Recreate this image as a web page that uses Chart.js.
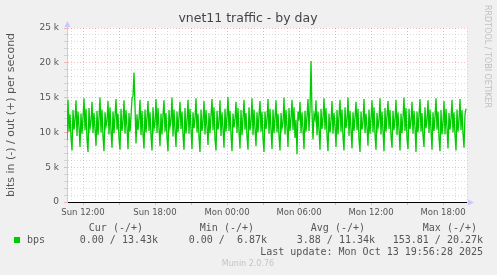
<!DOCTYPE html>
<html>
<head>
<meta charset="utf-8">
<script src="https://cdn.jsdelivr.net/npm/chart.js@4.4.1/dist/chart.umd.min.js"></script>
<style>
html,body{margin:0;padding:0;background:#f0f0f0;}
#wrap{width:497px;height:275px;}
</style>
</head>
<body>
<div id="wrap"><canvas id="c" width="497" height="275"></canvas></div>
<script>
// out traffic in k bps, one value per 5 min, starting Sun 10:40
const outK = [
8.9,14.7,10.1,12.6,9.3,7.4,13.2,10.4,
11.8,14.6,9.5,13.0,10.8,7.9,12.7,9.8,
12.2,14.9,10.3,13.4,9.0,7.2,13.5,10.6,
11.5,14.4,9.9,12.8,10.5,8.1,13.1,9.6,
12.0,15.0,10.0,13.3,9.4,7.3,12.9,10.9,
11.7,14.5,9.7,13.6,10.2,7.8,13.0,9.9,
12.4,14.8,10.4,12.7,9.1,7.5,13.4,10.2,
11.6,14.6,9.8,13.2,10.7,7.6,12.8,10.1,
12.3,14.9,15.2,18.6,13.8,8.4,12.6,10.3,
11.9,14.7,9.6,13.1,9.8,7.7,13.3,10.0,
12.1,14.5,10.2,12.9,9.5,7.4,13.6,10.5,
11.4,14.8,9.9,13.5,10.6,8.0,12.7,9.7,
12.5,14.6,10.1,12.8,9.2,7.3,13.2,10.8,
11.8,15.0,9.4,13.3,10.3,7.9,13.0,10.0,
12.2,14.4,10.5,13.0,9.6,7.5,13.5,9.8,
11.6,14.7,9.8,13.4,10.4,7.6,12.9,10.6,
12.0,14.9,10.0,12.7,9.3,7.2,13.3,10.2,
11.7,14.5,9.7,13.2,10.8,8.2,12.8,9.9,
12.4,14.8,10.3,13.6,9.0,7.4,13.1,10.4,
11.5,14.6,9.5,12.9,10.5,7.8,13.4,10.1,
12.3,15.1,10.2,13.1,9.7,7.3,12.7,10.7,
11.9,14.4,9.9,13.5,10.1,7.7,13.2,9.6,
12.1,14.7,10.4,12.8,9.4,7.5,13.6,10.3,
11.6,14.9,9.6,13.3,10.6,8.0,12.9,10.0,
12.5,14.5,10.1,13.0,9.1,7.2,13.0,10.5,
11.8,14.8,9.8,13.4,10.4,7.6,13.3,9.9,
12.2,14.6,10.0,12.7,9.5,7.4,12.8,10.6,
11.4,15.0,9.7,13.2,10.7,7.9,13.5,10.2,
12.0,14.7,10.3,13.6,9.2,11.8,6.87,13.0,
11.7,14.4,9.9,12.9,10.5,7.6,13.1,10.1,
12.3,14.8,10.2,13.3,20.27,12.9,9.0,12.6,
11.9,14.6,9.6,13.0,10.3,7.5,13.4,10.5,
12.1,14.9,10.4,13.5,9.6,7.3,12.7,10.0,
11.6,14.5,9.8,12.8,10.8,7.9,13.2,9.7,
12.4,14.7,10.1,13.3,9.3,7.4,13.6,10.6,
11.8,15.0,9.5,13.1,10.4,7.7,12.9,10.2,
12.2,14.4,10.3,13.4,9.0,7.2,13.0,10.4,
11.5,14.8,9.9,12.7,10.6,8.1,13.3,9.8,
12.0,14.6,10.0,13.6,9.7,7.5,12.8,10.7,
11.7,14.9,9.7,13.0,10.2,7.3,13.5,10.1,
12.3,14.5,10.5,13.2,9.4,7.8,13.1,10.3,
11.9,14.7,9.6,12.9,10.5,7.4,12.7,9.9,
12.1,15.0,10.2,13.5,9.1,7.6,13.4,10.5,
11.6,14.4,9.8,13.1,10.7,7.2,13.0,10.0,
12.5,14.8,10.1,12.8,9.5,7.9,13.6,10.6,
11.8,14.6,9.9,13.3,10.3,7.5,12.9,10.2,
12.2,14.9,10.4,13.0,9.2,7.3,13.2,9.7,
11.4,14.5,9.7,13.4,10.6,7.7,12.8,10.4,
12.0,14.7,10.0,12.9,9.6,7.4,13.3,10.1,
11.7,14.8,10.3,13.2,9.8,7.8,12.6,13.43
];

const xTickIndex = [16, 88, 160, 232, 304, 376];
const xTickLabels = ["Sun 12:00","Sun 18:00","Mon 00:00","Mon 06:00","Mon 12:00","Mon 18:00"];
const yMax = 25000;

const legendHead = ["Cur (-/+)","Min (-/+)","Avg (-/+)","Max (-/+)"];
const legendVals = ["0.00 / 13.43k","0.00 /  6.87k","3.88 / 11.34k","153.81 / 20.27k"];
const lastUpdate = "Last update: Mon Oct 13 19:56:28 2025";

const green = "#00cc00";
const minorGrid = "rgba(150,150,150,0.32)";
const majorGrid = "rgba(230,90,90,0.4)";
const axisBlue = "#c8c8ff";

let points = outK.map(function(v,i){ return {x:i, y:v*1000}; });

let decor = {
  id:"decor",
  beforeDraw:function(chart){
    let ctx=chart.ctx, a=chart.chartArea;
    ctx.save();
    ctx.fillStyle="#ffffff";
    ctx.fillRect(a.left,a.top,a.right-a.left,a.bottom-a.top);
    ctx.restore();
  },
  afterDraw:function(chart){
    let ctx=chart.ctx, a=chart.chartArea;
    ctx.save();

    // title
    ctx.fillStyle="#444";
    ctx.font="12.5px 'DejaVu Sans'";
    ctx.textAlign="center";
    ctx.textBaseline="middle";
    ctx.fillText("vnet11 traffic - by day",248,19);

    // y axis title
    ctx.save();
    ctx.translate(11,115);
    ctx.rotate(-Math.PI/2);
    ctx.font="11px 'DejaVu Sans'";
    ctx.fillStyle="#555";
    ctx.fillText("bits in (-) / out (+) per second",0,0);
    ctx.restore();

    // rrdtool credit
    ctx.save();
    ctx.translate(487.5,5);
    ctx.rotate(Math.PI/2);
    ctx.font="8px 'DejaVu Sans'";
    ctx.fillStyle="#c0c0c0";
    ctx.textAlign="left";
    ctx.fillText("RRDTOOL / TOBI OETIKER",0,0);
    ctx.restore();

    // axis arrows
    ctx.fillStyle=axisBlue;
    ctx.strokeStyle=axisBlue;
    ctx.lineWidth=1;
    ctx.beginPath();
    ctx.moveTo(a.left+0.5,a.top);
    ctx.lineTo(a.left+0.5,a.top-4);
    ctx.moveTo(a.right,a.bottom+0.5);
    ctx.lineTo(a.right+3,a.bottom+0.5);
    ctx.stroke();
    ctx.beginPath();
    ctx.moveTo(a.left+0.5,a.top-7);
    ctx.lineTo(a.left-2.5,a.top-1);
    ctx.lineTo(a.left+3.5,a.top-1);
    ctx.closePath();
    ctx.fill();
    ctx.beginPath();
    ctx.moveTo(a.right+7,a.bottom+0.5);
    ctx.lineTo(a.right+1,a.bottom-2.5);
    ctx.lineTo(a.right+1,a.bottom+3.5);
    ctx.closePath();
    ctx.fill();

    // legend
    ctx.font="10px 'DejaVu Sans Mono'";
    ctx.fillStyle="#555";
    ctx.textAlign="right";
    let headX=[143,254,365,477];
    let valX=[158,267,375,483];
    for(let i=0;i<legendHead.length;i++){
      ctx.fillText(legendHead[i],headX[i],228);
      ctx.fillText(legendVals[i],valX[i],240);
    }
    ctx.fillText(lastUpdate,483,252);
    ctx.textAlign="left";
    ctx.fillText("bps",27,240);
    ctx.fillStyle=green;
    ctx.fillRect(14,237,6,6);

    ctx.font="8px 'DejaVu Sans'";
    ctx.fillStyle="#c4c4c4";
    ctx.textAlign="center";
    ctx.fillText("Munin 2.0.76",248,264);

    ctx.restore();
  }
};

new Chart(document.getElementById("c"),{
  type:"line",
  data:{
    datasets:[{
      label:"bps",
      data:points,
      borderColor:green,
      borderWidth:1.3,
      pointRadius:0,
      tension:0,
      fill:false
    }]
  },
  options:{
    responsive:false,
    animation:false,
    devicePixelRatio:1,
    layout:{padding:{top:28,right:30,left:0,bottom:0}},
    plugins:{legend:{display:false},tooltip:{enabled:false},title:{display:false}},
    scales:{
      x:{
        type:"linear",
        min:0,
        max:400,
        afterBuildTicks:function(scale){
          let t=[];
          for(let v=4;v<=400;v+=12) t.push({value:v});
          scale.ticks=t;
        },
        afterFit:function(scale){ scale.height=73; },
        ticks:{
          autoSkip:false,
          maxRotation:0,
          padding:3,
          color:"#555",
          font:{family:"DejaVu Sans",size:8.5},
          callback:function(v){
            let k=xTickIndex.indexOf(v);
            return k<0 ? "" : xTickLabels[k];
          }
        },
        grid:{
          drawTicks:true,
          tickLength:3,
          lineWidth:1,
          color:function(c){
            return (c.tick && (c.tick.value-16)%36===0) ? majorGrid : minorGrid;
          },
          tickColor:function(c){
            return (c.tick && (c.tick.value-16)%36===0) ? majorGrid : "rgba(0,0,0,0)";
          }
        },
        border:{display:true,color:"#000",width:1,dash:[1,2]}
      },
      y:{
        min:0,
        max:yMax,
        afterBuildTicks:function(scale){
          let t=[];
          for(let v=0;v<=yMax;v+=1000) t.push({value:v});
          scale.ticks=t;
        },
        afterFit:function(scale){ scale.width=67; },
        ticks:{
          autoSkip:false,
          padding:5,
          color:"#555",
          font:{family:"DejaVu Sans",size:9},
          callback:function(v){
            if(v%5000!==0) return "";
            return v===0 ? "0" : (v/1000)+" k";
          }
        },
        grid:{
          drawTicks:true,
          tickLength:3,
          lineWidth:1,
          color:function(c){
            return (c.tick && c.tick.value%5000===0) ? majorGrid : minorGrid;
          },
          tickColor:function(c){
            return (c.tick && c.tick.value%5000===0) ? majorGrid : minorGrid;
          }
        },
        border:{display:true,color:axisBlue,width:1,dash:[1,2]}
      }
    }
  },
  plugins:[decor]
});
</script>
</body>
</html>
